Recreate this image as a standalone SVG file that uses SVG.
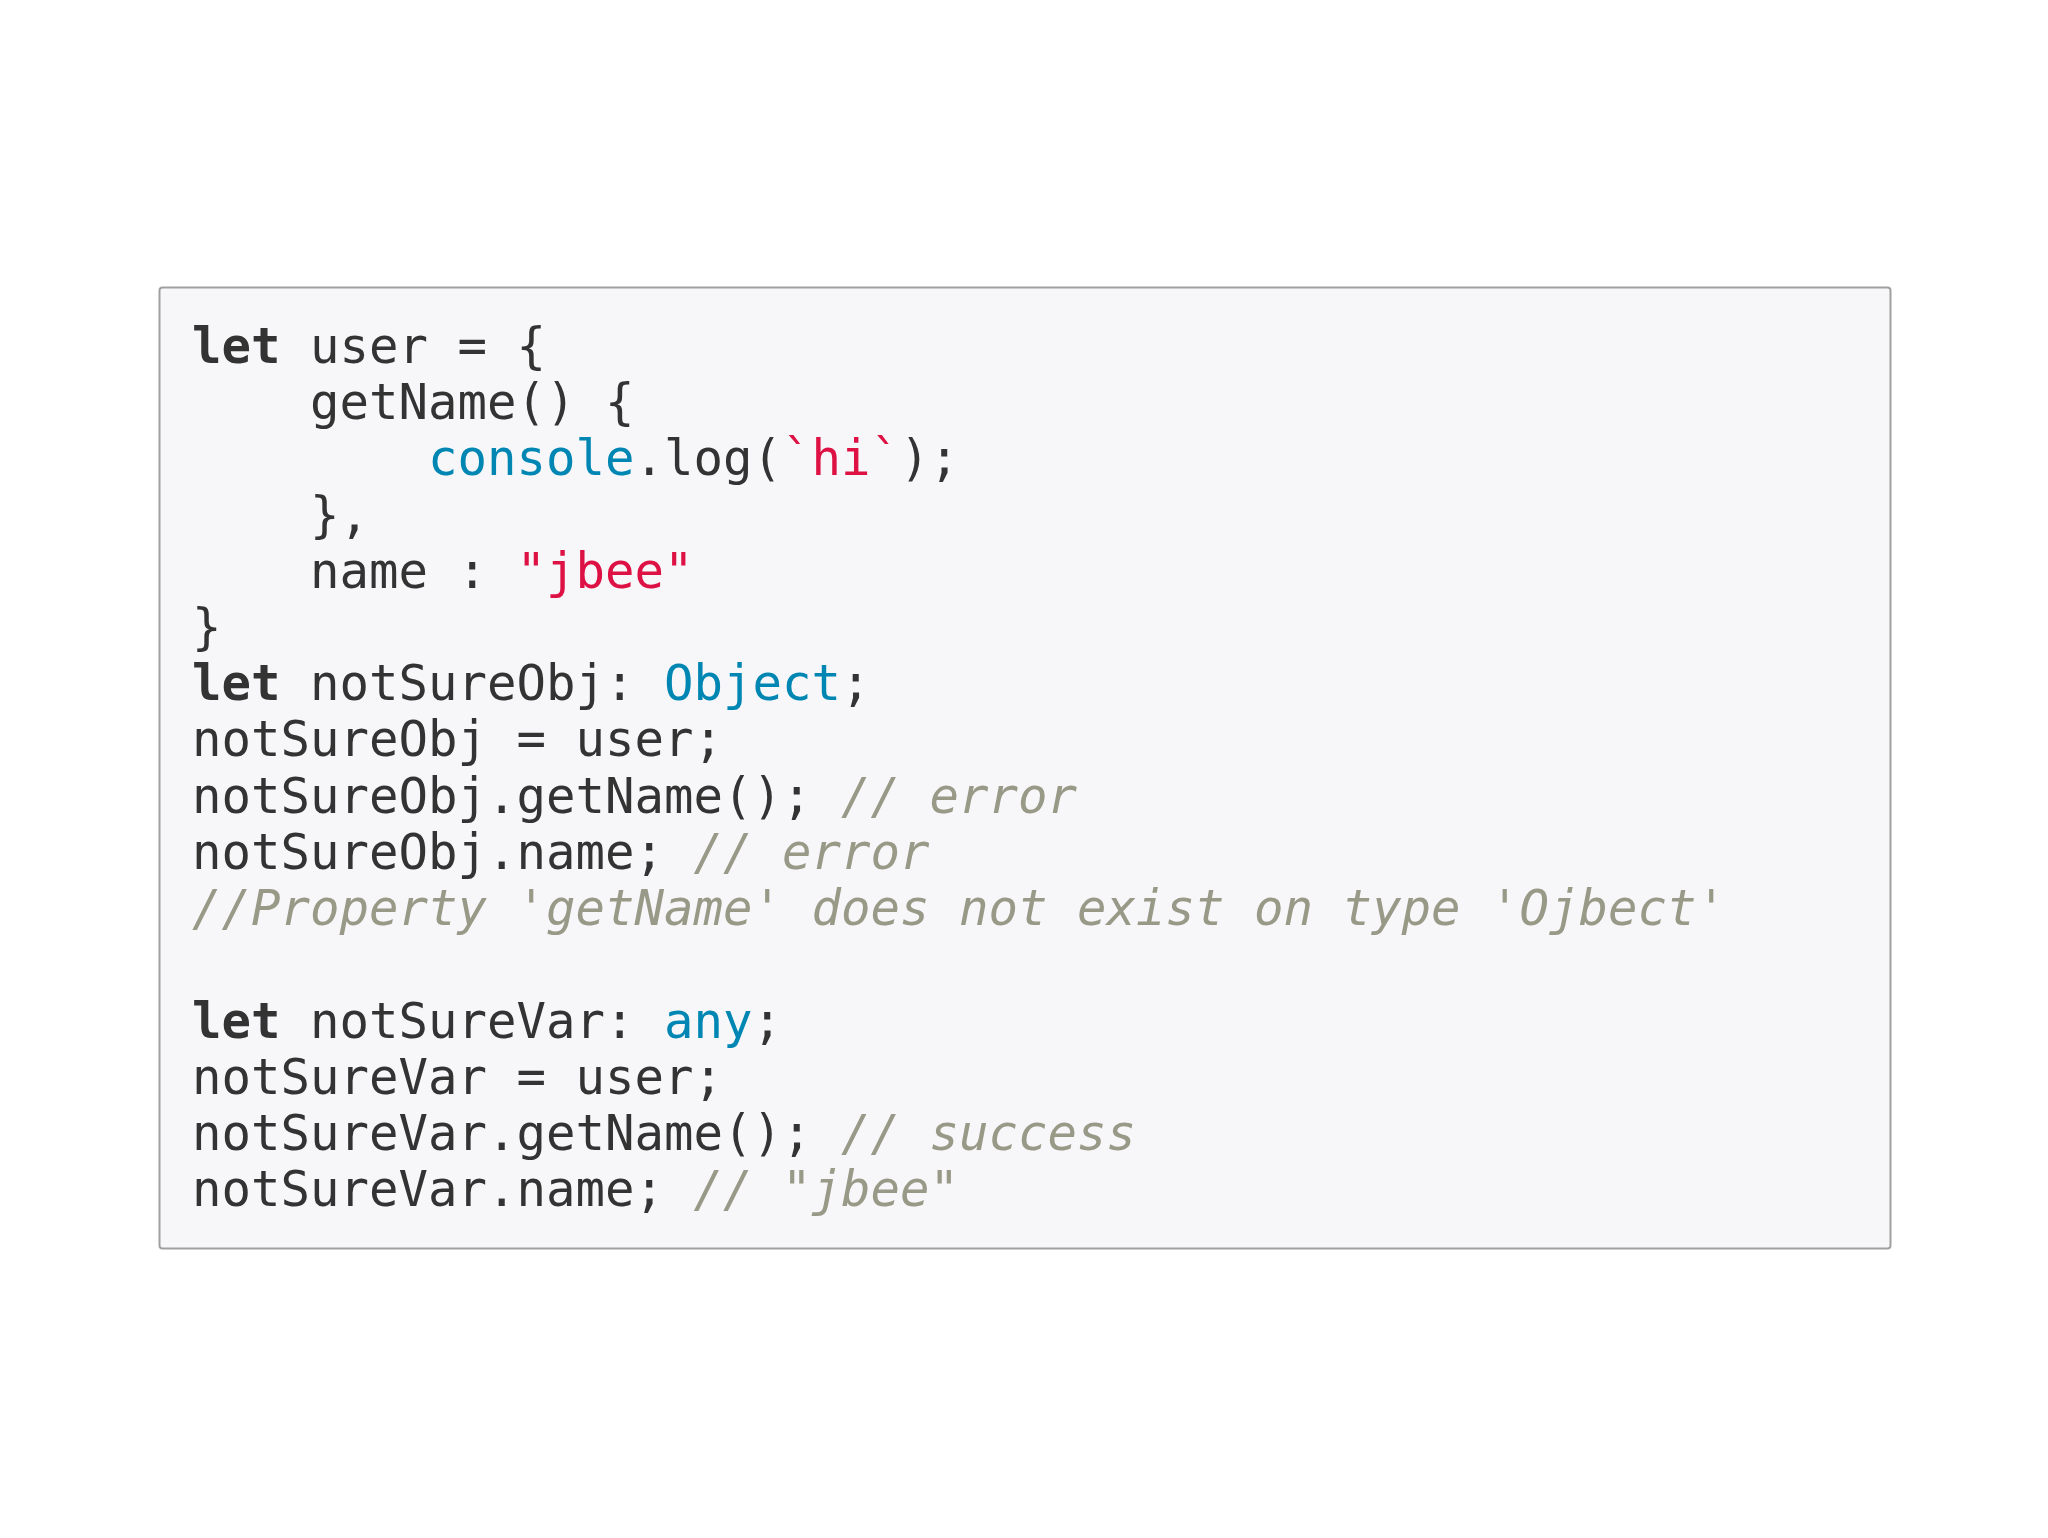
<svg xmlns="http://www.w3.org/2000/svg" width="2048" height="1538" viewBox="0 0 2048 1538">
<style>
text{font-family:"DejaVu Sans Mono",monospace;font-size:49px;fill:#333;white-space:pre}
.k{font-weight:bold;fill:#333}
.b{fill:#0086b3}
.s{fill:#dd1144}
.c{fill:#998;font-style:italic}
</style>
<rect width="2048" height="1538" fill="#fff"/>
<g id="code">
<rect x="159.5" y="287.5" width="1731" height="961" rx="3" fill="#f7f7f9" stroke="#a0a0a0" stroke-width="2"/>
<text x="192" y="363" xml:space="preserve"><tspan class="k">let</tspan> user = {</text>
<text x="192" y="419" xml:space="preserve">    getName() {</text>
<text x="192" y="475" xml:space="preserve">        <tspan class="b">console</tspan>.log(<tspan class="s">`hi`</tspan>);</text>
<text x="192" y="532" xml:space="preserve">    },</text>
<text x="192" y="588" xml:space="preserve">    name : <tspan class="s">"jbee"</tspan></text>
<text x="192" y="644" xml:space="preserve">}</text>
<text x="192" y="700" xml:space="preserve"><tspan class="k">let</tspan> notSureObj: <tspan class="b">Object</tspan>;</text>
<text x="192" y="756" xml:space="preserve">notSureObj = user;</text>
<text x="192" y="813" xml:space="preserve">notSureObj.getName(); <tspan class="c">// error</tspan></text>
<text x="192" y="869" xml:space="preserve">notSureObj.name; <tspan class="c">// error</tspan></text>
<text x="192" y="925" xml:space="preserve"><tspan class="c">//Property 'getName' does not exist on type 'Ojbect'</tspan></text>
<text x="192" y="1038" xml:space="preserve"><tspan class="k">let</tspan> notSureVar: <tspan class="b">any</tspan>;</text>
<text x="192" y="1094" xml:space="preserve">notSureVar = user;</text>
<text x="192" y="1150" xml:space="preserve">notSureVar.getName(); <tspan class="c">// success</tspan></text>
<text x="192" y="1206" xml:space="preserve">notSureVar.name; <tspan class="c">// "jbee"</tspan></text>
</g>
</svg>
